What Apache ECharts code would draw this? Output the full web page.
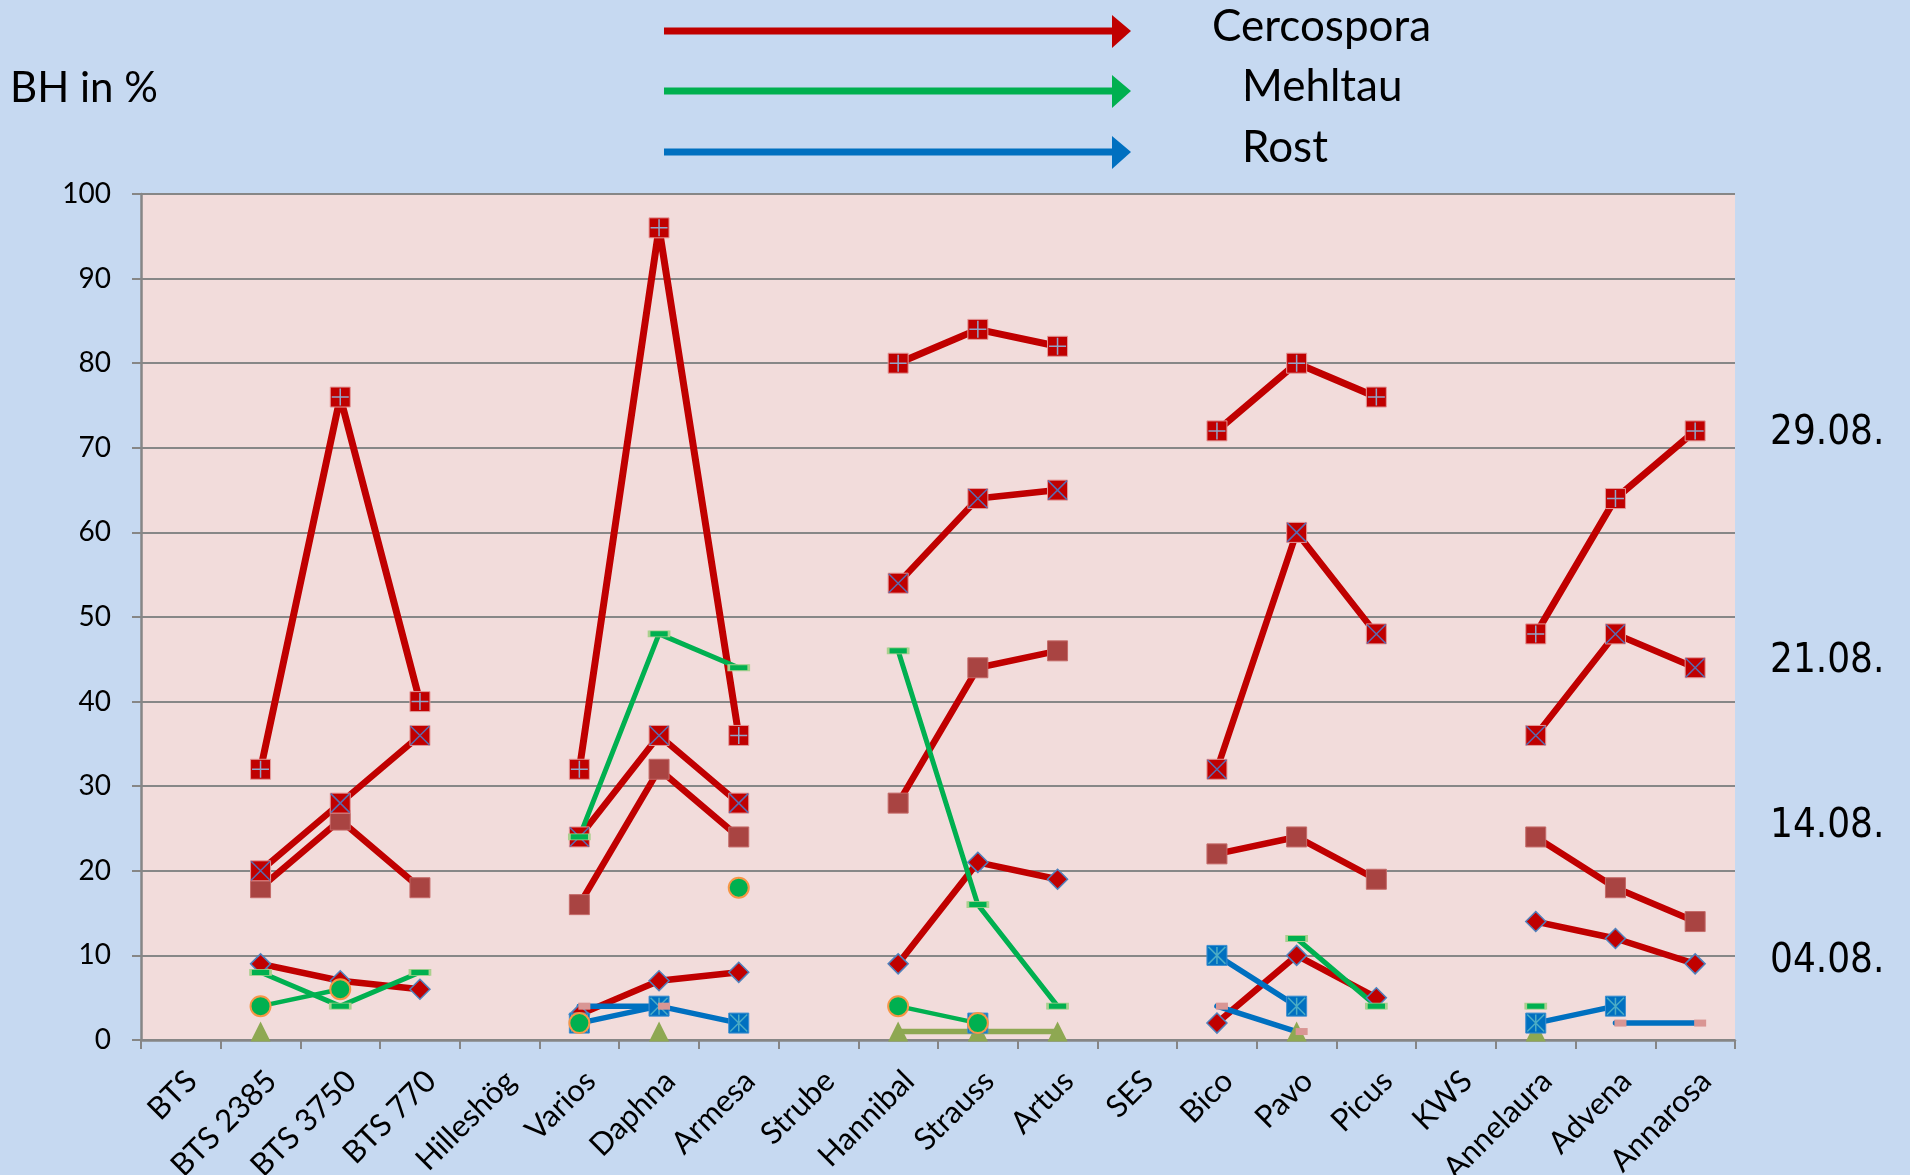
<!DOCTYPE html>
<html>
<head>
<meta charset="utf-8">
<script src="https://cdn.jsdelivr.net/npm/echarts@6/dist/echarts.min.js"></script>
<style>
html,body{margin:0;padding:0;background:#C6D9F1;}
#c{width:1910px;height:1175px;}
</style>
</head>
<body>
<div id="c"></div>
<script>
// ---- data ----
const categories = ['BTS','BTS 2385','BTS 3750','BTS 770','Hilleshög','Varios','Daphna','Armesa','Strube','Hannibal','Strauss','Artus','SES','Bico','Pavo','Picus','KWS','Annelaura','Advena','Annarosa'];
const yMin = 0, yMax = 100, yStep = 10;
const dateLabels = ['29.08.','21.08.','14.08.','04.08.'];
const legendNames = ['Cercospora','Mehltau','Rost'];

// Cercospora
const cerc0408 = [null,9,7,6,null,3,7,8,null,9,21,19,null,2,10,5,null,14,12,9];
const cerc1408 = [null,18,26,18,null,16,32,24,null,28,44,46,null,22,24,19,null,24,18,14];
const cerc2108 = [null,20,28,36,null,24,36,28,null,54,64,65,null,32,60,48,null,36,48,44];
const cerc2908 = [null,32,76,40,null,32,96,36,null,80,84,82,null,72,80,76,null,48,64,72];
// Mehltau
const mehltauDash = [null,8,4,8,null,24,48,44,null,46,16,4,null,null,12,4,null,4,null,null];
const mehltauCircle = [null,4,6,null,null,2,null,18,null,4,2,null,null,null,null,null,null,null,null,null];
const mehltauTriangle = [null,1,null,null,null,null,1,null,null,1,1,1,null,null,1,null,null,1,null,null];
// Rost
const rostStar = [null,null,null,null,null,2,4,2,null,null,2,null,null,10,4,null,null,2,4,null];
const rostDash = [null,null,null,null,null,4,4,null,null,null,null,null,null,4,1,null,null,null,2,2];

// ---- chart ----
const RED = '#C00000', GREEN = '#00B050', BLUE = '#0070C0', OLIVE = '#8EA852';
const FONT = 'Lato';

function lineSeries(data, color, width, symbol, size, itemStyle, extra) {
  return Object.assign({
    type: 'line', data: data, connectNulls: false, showAllSymbol: true,
    symbol: symbol, symbolSize: size,
    lineStyle: {color: color, width: width, cap: 'round', join: 'round'},
    itemStyle: itemStyle, silent: true, animation: false
  }, extra || {});
}
function overlay(data, path, size, stroke, w) {
  return {
    type: 'line', data: data, connectNulls: false, showAllSymbol: true,
    symbol: 'path://' + path, symbolSize: size,
    lineStyle: {width: 0, opacity: 0},
    itemStyle: {color: 'rgba(0,0,0,0)', borderColor: stroke, borderWidth: w},
    silent: true, animation: false
  };
}

const sqBorder = {borderColor: '#E39A9A', borderWidth: 1};
const series = [
  lineSeries(cerc0408, RED, 6.5, 'diamond', 20, {color: RED, borderColor: '#4F81BD', borderWidth: 1.5}),
  lineSeries(cerc1408, RED, 6.5, 'rect', 20, {color: '#A94442', borderColor: '#C46A68', borderWidth: 1}),
  lineSeries(cerc2108, RED, 6.5, 'rect', 20, Object.assign({color: RED}, sqBorder)),
  overlay(cerc2108, 'M0 0L10 10M10 0L0 10', 19, '#5A6BB0', 1.5),
  lineSeries(cerc2908, RED, 7, 'rect', 20, Object.assign({color: RED}, sqBorder)),
  overlay(cerc2908, 'M5 0L5 10M0 5L10 5', 17, '#93A5C8', 1.5),
  lineSeries(mehltauTriangle, OLIVE, 5.5, 'triangle', 20, {color: OLIVE}),
  lineSeries(rostStar, BLUE, 5.5, 'rect', 20, {color: BLUE, borderColor: '#3E8FD0', borderWidth: 1}),
  overlay(rostStar, 'M5 0L5 10M0 0L10 10M10 0L0 10', 17, '#4BACC6', 1.5),
  lineSeries(rostDash, BLUE, 5.5, 'rect', [12, 7], {color: '#D99694'}, {symbolOffset: [5, 0]}),
  lineSeries(mehltauDash, GREEN, 5, 'rect', [20, 6], {color: GREEN, borderColor: '#A9D08E', borderWidth: 1.5}),
  lineSeries(mehltauCircle, GREEN, 4.5, 'circle', 20, {color: GREEN, borderColor: '#F79646', borderWidth: 2})
];

const graphics = [];
// title
graphics.push({type: 'text', x: 10, y: 88, style: {text: 'BH in %', font: '42px ' + FONT, fill: '#000', textVerticalAlign: 'middle'}});
// legend arrows
const arrowY = [31, 91, 152], arrowCol = [RED, GREEN, BLUE], legendX = [1212, 1242, 1242];
for (let i = 0; i < 3; i++) {
  graphics.push({type: 'line', shape: {x1: 664, y1: arrowY[i], x2: 1116, y2: arrowY[i]}, style: {stroke: arrowCol[i], lineWidth: 7}});
  graphics.push({type: 'polygon', shape: {points: [[1112, arrowY[i] - 16], [1131, arrowY[i]], [1112, arrowY[i] + 17]]}, style: {fill: arrowCol[i]}});
  graphics.push({type: 'text', x: legendX[i], y: arrowY[i] - 4, style: {text: legendNames[i], font: '44px ' + FONT, fill: '#000', textVerticalAlign: 'middle'}});
}
// date labels
const dateY = [434, 662, 827, 962];
for (let i = 0; i < 4; i++) {
  graphics.push({type: 'text', x: 1770, y: dateY[i], style: {text: dateLabels[i], font: "40px 'DejaVu Sans Condensed', 'DejaVu Sans'", fill: '#000', textVerticalAlign: 'middle'}});
}

const chart = echarts.init(document.getElementById('c'), null, {renderer: 'canvas'});
chart.setOption({
  animation: false,
  backgroundColor: '#C6D9F1',
  grid: {left: 141, top: 194, right: 175, bottom: 135, show: true, backgroundColor: '#F2DCDB', borderWidth: 0, containLabel: false, outerBoundsMode: 'none'},
  xAxis: {
    type: 'category', data: categories, boundaryGap: true,
    axisLine: {lineStyle: {color: '#868686', width: 2.5}},
    axisTick: {show: true, interval: 0, length: 9, lineStyle: {color: '#868686', width: 2}},
    axisLabel: {interval: 0, rotate: 45, margin: 25, verticalAlign: 'top', fontFamily: FONT, fontSize: 31, color: '#000', hideOverlap: false},
    splitLine: {show: false}
  },
  yAxis: {
    type: 'value', min: yMin, max: yMax, interval: yStep,
    axisLine: {show: true, lineStyle: {color: '#868686', width: 2.5}},
    axisTick: {show: true, length: 9, lineStyle: {color: '#868686', width: 2}},
    axisLabel: {margin: 30, fontFamily: FONT, fontSize: 28, color: '#000'},
    splitLine: {show: true, lineStyle: {color: '#878787', width: 2}}
  },
  graphic: graphics,
  series: series
});
</script>
</body>
</html>
